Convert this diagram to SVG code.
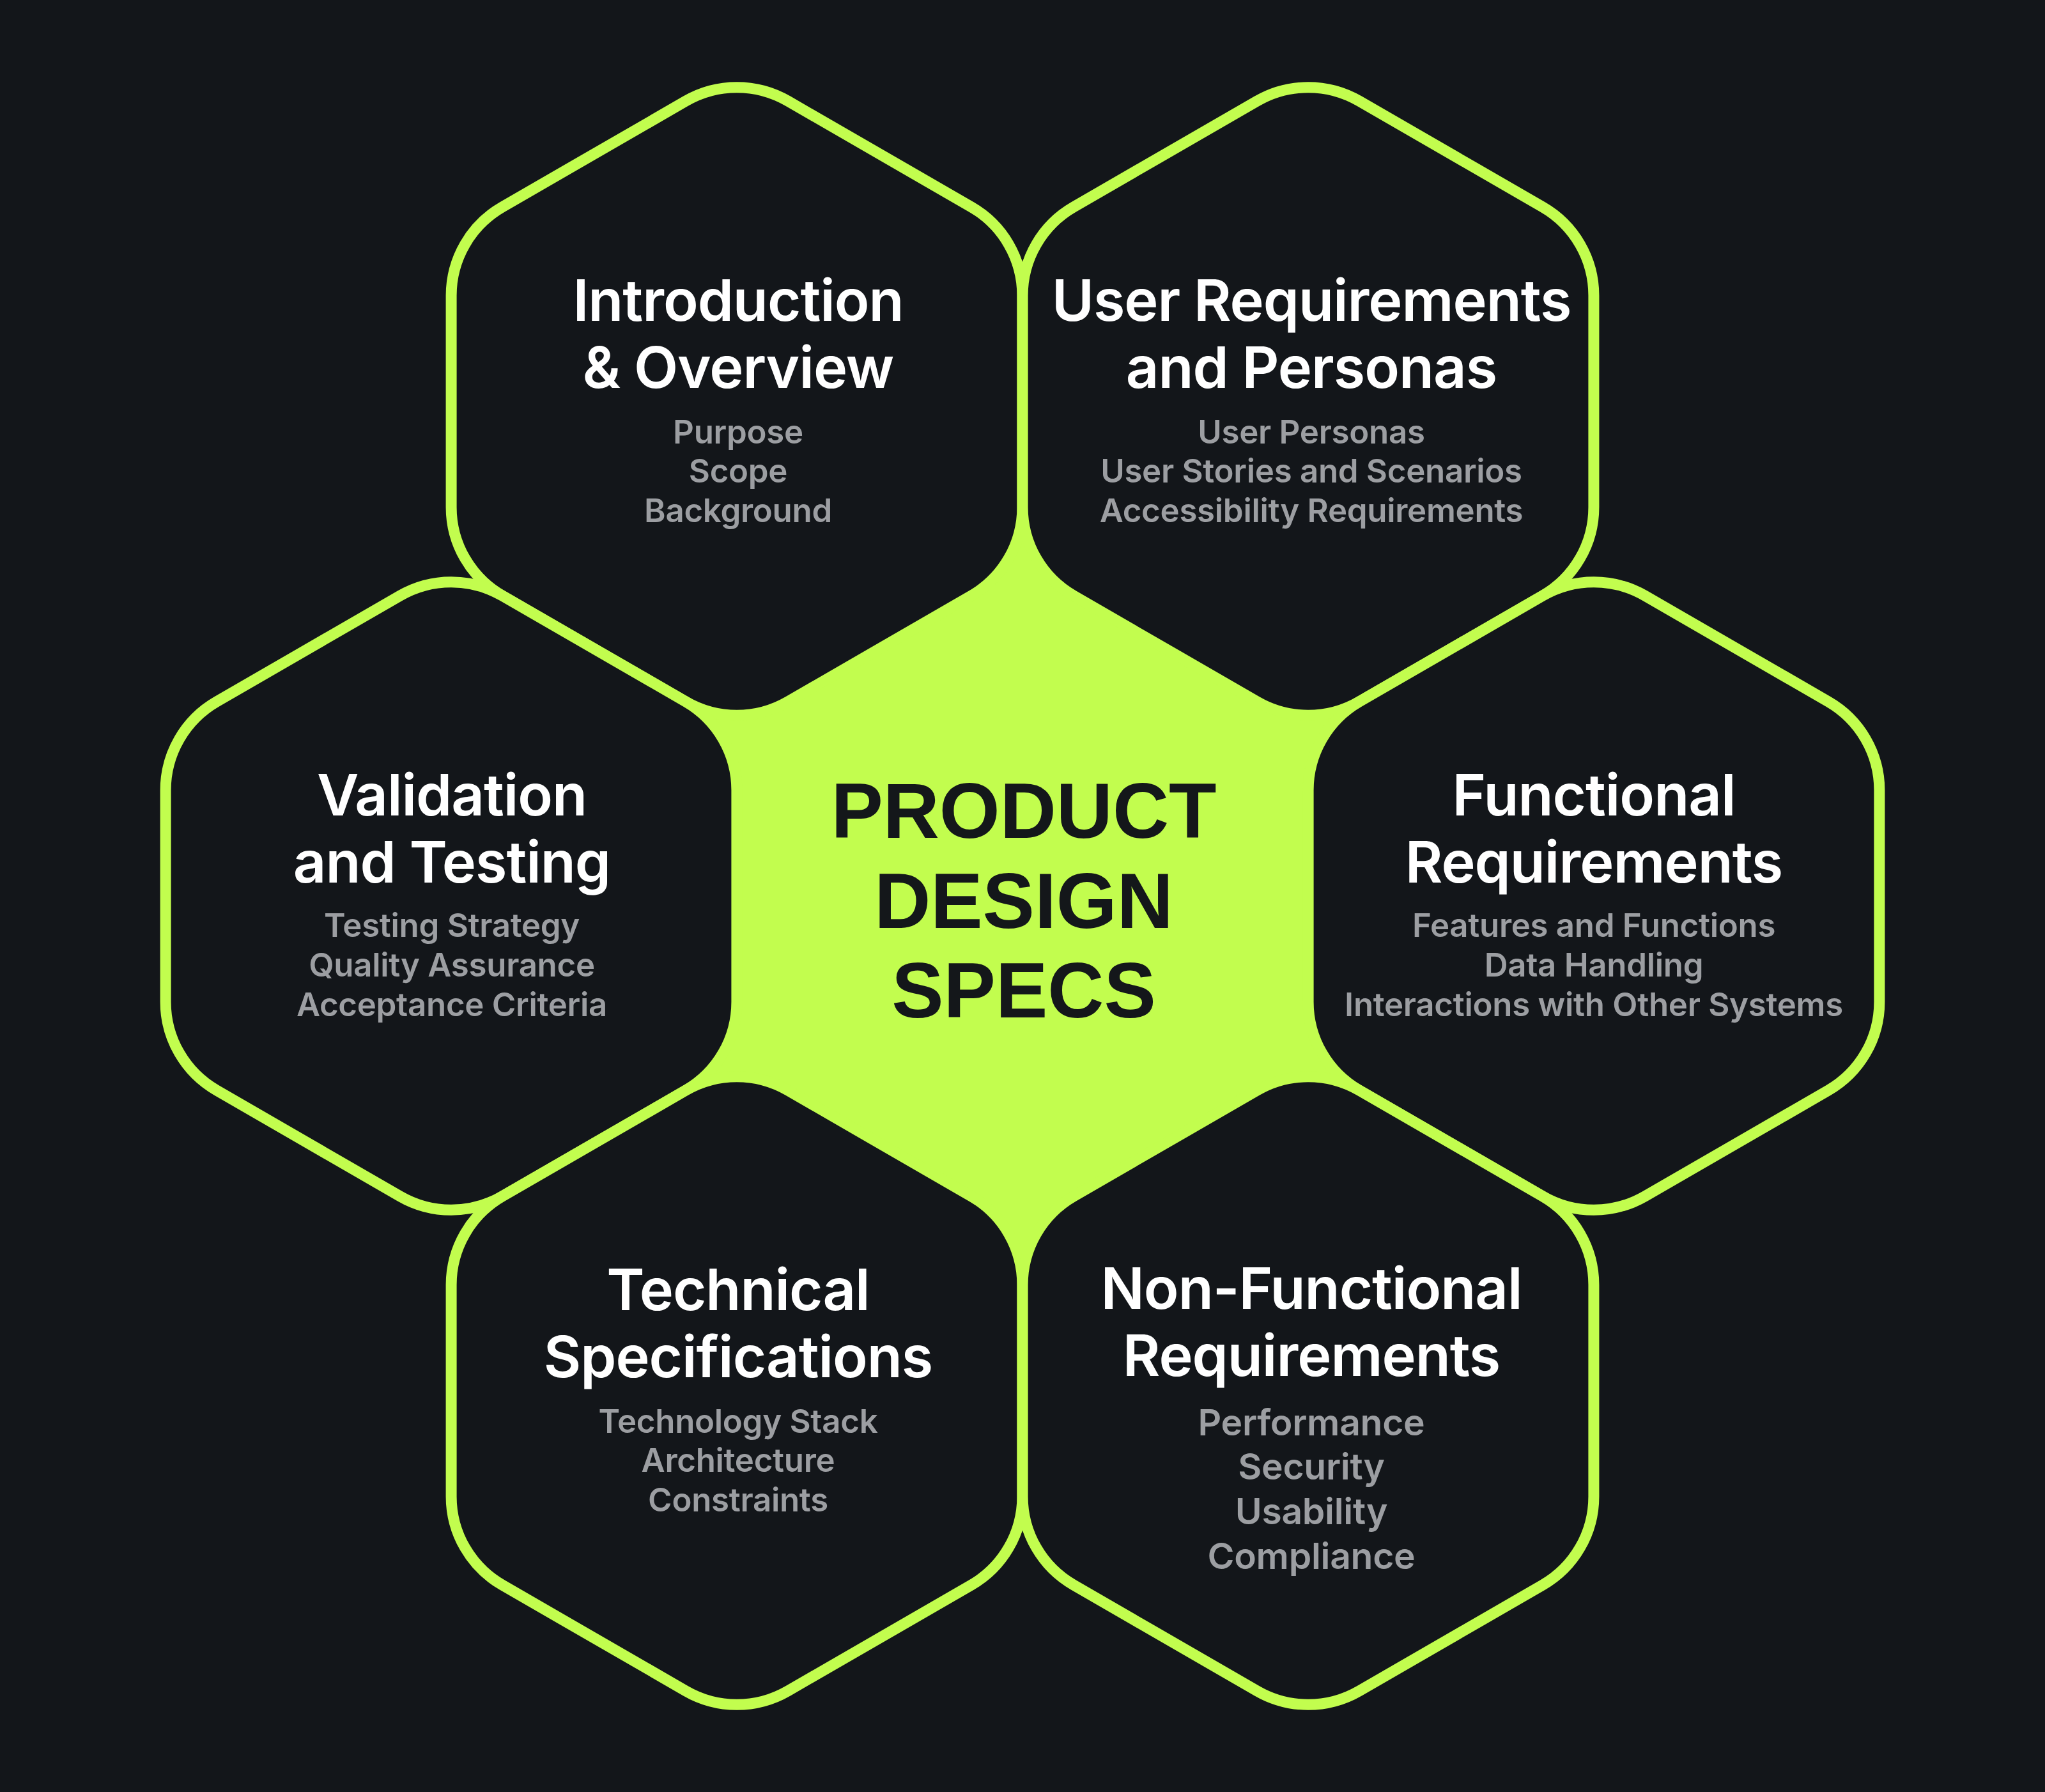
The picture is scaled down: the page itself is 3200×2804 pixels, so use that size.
<svg xmlns="http://www.w3.org/2000/svg" width="3200" height="2804" viewBox="0 0 3200 2804">
<style>
.bg{fill:#13161a}
.hex{fill:#13161a;stroke:#c2fd4e;stroke-width:17}
.core{fill:#c2fd4e}
.t{font-family:Inter,"Noto Sans","Liberation Sans",sans-serif;font-weight:600;font-size:90px;letter-spacing:-1px;fill:#ffffff;text-anchor:middle}
.s{font-family:Inter,"Noto Sans","Liberation Sans",sans-serif;font-weight:600;font-size:51px;letter-spacing:-0.3px;fill:#9c9ea2;text-anchor:middle}
.s2{font-size:57px}
.c{font-family:"Liberation Sans",Arial,sans-serif;font-weight:700;font-size:122px;fill:#14171a;text-anchor:middle}
</style>
<defs>
<path id="hx" d="M-80,-469.8 A160,160 0 0 1 80,-469.8 L366.9,-304.2 A160,160 0 0 1 446.9,-165.6 L446.9,165.6 A160,160 0 0 1 366.9,304.2 L80,469.8 A160,160 0 0 1 -80,469.8 L-366.9,304.2 A160,160 0 0 1 -446.9,165.6 L-446.9,-165.6 A160,160 0 0 1 -366.9,-304.2 Z"/>
</defs>
<rect class="bg" x="0" y="0" width="3200" height="2804"/>
<g id="connectors"></g>
<g id="center">
<path class="core" d="M1600,682 L2223.5,1042 L2223.5,1762 L1600,2122 L976.5,1762 L976.5,1042 Z"/>
</g>
<g id="intro">
<use href="#hx" class="hex" x="1153" y="628"/>
<text class="t" x="1155" y="502">Introduction</text>
<text class="t" x="1155" y="607">&amp; Overview</text>
<text class="s" x="1155" y="694">Purpose</text>
<text class="s" x="1155" y="755">Scope</text>
<text class="s" x="1155" y="817">Background</text>
</g>
<g id="user-req">
<use href="#hx" class="hex" x="2047" y="628"/>
<text class="t" x="2052" y="502">User Requirements</text>
<text class="t" x="2052" y="607">and Personas</text>
<text class="s" x="2052" y="694">User Personas</text>
<text class="s" x="2052" y="755">User Stories and Scenarios</text>
<text class="s" x="2052" y="817">Accessibility Requirements</text>
</g>
<g id="validation">
<use href="#hx" class="hex" x="706" y="1402"/>
<text class="t" x="707" y="1276">Validation</text>
<text class="t" x="707" y="1381">and Testing</text>
<text class="s" x="707" y="1466">Testing Strategy</text>
<text class="s" x="707" y="1528">Quality Assurance</text>
<text class="s" x="707" y="1590">Acceptance Criteria</text>
</g>
<g id="functional">
<use href="#hx" class="hex" x="2494" y="1402"/>
<text class="t" x="2494" y="1276">Functional</text>
<text class="t" x="2494" y="1381">Requirements</text>
<text class="s" x="2494" y="1466">Features and Functions</text>
<text class="s" x="2494" y="1528">Data Handling</text>
<text class="s" x="2494" y="1590">Interactions with Other Systems</text>
</g>
<g id="technical">
<use href="#hx" class="hex" x="1153" y="2176"/>
<text class="t" x="1155" y="2050">Technical</text>
<text class="t" x="1155" y="2155">Specifications</text>
<text class="s" x="1155" y="2242">Technology Stack</text>
<text class="s" x="1155" y="2303">Architecture</text>
<text class="s" x="1155" y="2365">Constraints</text>
</g>
<g id="non-functional">
<use href="#hx" class="hex" x="2047" y="2176"/>
<text class="t" x="2052" y="2048">Non-Functional</text>
<text class="t" x="2052" y="2153">Requirements</text>
<text class="s s2" x="2052" y="2246">Performance</text>
<text class="s s2" x="2052" y="2315">Security</text>
<text class="s s2" x="2052" y="2385">Usability</text>
<text class="s s2" x="2052" y="2455">Compliance</text>
</g>
<g id="center-label">
<text class="c" x="1602" y="1311">PRODUCT</text>
<text class="c" x="1602" y="1452">DESIGN</text>
<text class="c" x="1602" y="1592">SPECS</text>
</g>
</svg>
